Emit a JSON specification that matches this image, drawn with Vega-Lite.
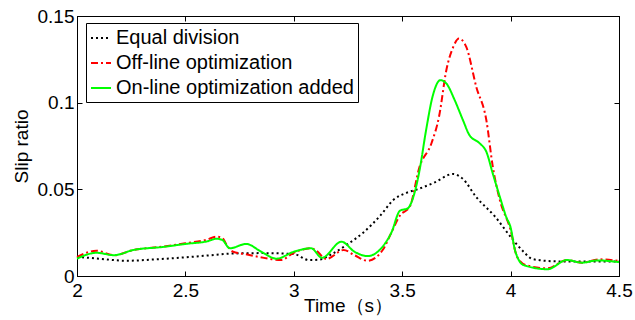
{
  "$schema": "https://vega.github.io/schema/vega-lite/v6.json",
  "width": 542,
  "height": 260,
  "autosize": {"type": "none"},
  "padding": {"left": 77, "top": 16, "right": 16, "bottom": 44},
  "background": "white",
  "config": {
    "view": {"stroke": "black", "strokeWidth": 1},
    "font": "Liberation Sans",
    "axis": {
      "grid": false,
      "domainColor": "black",
      "tickColor": "black",
      "labelColor": "black",
      "titleColor": "black",
      "labelFont": "Liberation Sans",
      "titleFont": "Liberation Sans",
      "labelFontSize": 19,
      "titleFontSize": 19,
      "titleFontWeight": "normal",
      "tickSize": -5
    },
    "legend": {
      "labelFont": "Liberation Sans",
      "labelFontSize": 20,
      "labelColor": "black",
      "labelLimit": 0
    }
  },
  "data": {
    "values": [
      {"t": 2.00, "v": 0.0111, "s": "Equal division"},
      {"t": 2.10, "v": 0.0100, "s": "Equal division"},
      {"t": 2.23, "v": 0.0088, "s": "Equal division"},
      {"t": 2.35, "v": 0.0095, "s": "Equal division"},
      {"t": 2.50, "v": 0.0108, "s": "Equal division"},
      {"t": 2.62, "v": 0.0120, "s": "Equal division"},
      {"t": 2.72, "v": 0.0130, "s": "Equal division"},
      {"t": 2.85, "v": 0.0132, "s": "Equal division"},
      {"t": 3.00, "v": 0.0127, "s": "Equal division"},
      {"t": 3.07, "v": 0.0092, "s": "Equal division"},
      {"t": 3.12, "v": 0.0095, "s": "Equal division"},
      {"t": 3.18, "v": 0.0130, "s": "Equal division"},
      {"t": 3.25, "v": 0.0185, "s": "Equal division"},
      {"t": 3.32, "v": 0.0250, "s": "Equal division"},
      {"t": 3.40, "v": 0.0350, "s": "Equal division"},
      {"t": 3.46, "v": 0.0440, "s": "Equal division"},
      {"t": 3.52, "v": 0.0480, "s": "Equal division"},
      {"t": 3.57, "v": 0.0500, "s": "Equal division"},
      {"t": 3.65, "v": 0.0540, "s": "Equal division"},
      {"t": 3.735, "v": 0.0589, "s": "Equal division"},
      {"t": 3.78, "v": 0.0560, "s": "Equal division"},
      {"t": 3.84, "v": 0.0458, "s": "Equal division"},
      {"t": 3.93, "v": 0.0340, "s": "Equal division"},
      {"t": 4.01, "v": 0.0210, "s": "Equal division"},
      {"t": 4.06, "v": 0.0140, "s": "Equal division"},
      {"t": 4.10, "v": 0.0098, "s": "Equal division"},
      {"t": 4.20, "v": 0.0085, "s": "Equal division"},
      {"t": 4.30, "v": 0.0083, "s": "Equal division"},
      {"t": 4.50, "v": 0.0083, "s": "Equal division"},

      {"t": 2.00, "v": 0.0110, "s": "Off-line optimization"},
      {"t": 2.09, "v": 0.0146, "s": "Off-line optimization"},
      {"t": 2.17, "v": 0.0120, "s": "Off-line optimization"},
      {"t": 2.26, "v": 0.0150, "s": "Off-line optimization"},
      {"t": 2.40, "v": 0.0170, "s": "Off-line optimization"},
      {"t": 2.50, "v": 0.0189, "s": "Off-line optimization"},
      {"t": 2.60, "v": 0.0210, "s": "Off-line optimization"},
      {"t": 2.645, "v": 0.0227, "s": "Off-line optimization"},
      {"t": 2.67, "v": 0.0220, "s": "Off-line optimization"},
      {"t": 2.69, "v": 0.0180, "s": "Off-line optimization"},
      {"t": 2.72, "v": 0.0140, "s": "Off-line optimization"},
      {"t": 2.78, "v": 0.0125, "s": "Off-line optimization"},
      {"t": 2.84, "v": 0.0110, "s": "Off-line optimization"},
      {"t": 2.94, "v": 0.0092, "s": "Off-line optimization"},
      {"t": 3.00, "v": 0.0134, "s": "Off-line optimization"},
      {"t": 3.08, "v": 0.0160, "s": "Off-line optimization"},
      {"t": 3.10, "v": 0.0150, "s": "Off-line optimization"},
      {"t": 3.15, "v": 0.0098, "s": "Off-line optimization"},
      {"t": 3.23, "v": 0.0150, "s": "Off-line optimization"},
      {"t": 3.28, "v": 0.0120, "s": "Off-line optimization"},
      {"t": 3.34, "v": 0.0088, "s": "Off-line optimization"},
      {"t": 3.41, "v": 0.0150, "s": "Off-line optimization"},
      {"t": 3.45, "v": 0.0250, "s": "Off-line optimization"},
      {"t": 3.49, "v": 0.0350, "s": "Off-line optimization"},
      {"t": 3.535, "v": 0.0400, "s": "Off-line optimization"},
      {"t": 3.58, "v": 0.0630, "s": "Off-line optimization"},
      {"t": 3.635, "v": 0.0766, "s": "Off-line optimization"},
      {"t": 3.67, "v": 0.0920, "s": "Off-line optimization"},
      {"t": 3.704, "v": 0.1190, "s": "Off-line optimization"},
      {"t": 3.735, "v": 0.1320, "s": "Off-line optimization"},
      {"t": 3.762, "v": 0.1370, "s": "Off-line optimization"},
      {"t": 3.796, "v": 0.1320, "s": "Off-line optimization"},
      {"t": 3.842, "v": 0.1090, "s": "Off-line optimization"},
      {"t": 3.888, "v": 0.0900, "s": "Off-line optimization"},
      {"t": 3.918, "v": 0.0630, "s": "Off-line optimization"},
      {"t": 3.95, "v": 0.0440, "s": "Off-line optimization"},
      {"t": 4.00, "v": 0.0265, "s": "Off-line optimization"},
      {"t": 4.03, "v": 0.0110, "s": "Off-line optimization"},
      {"t": 4.07, "v": 0.0063, "s": "Off-line optimization"},
      {"t": 4.17, "v": 0.0044, "s": "Off-line optimization"},
      {"t": 4.26, "v": 0.0092, "s": "Off-line optimization"},
      {"t": 4.33, "v": 0.0077, "s": "Off-line optimization"},
      {"t": 4.41, "v": 0.0096, "s": "Off-line optimization"},
      {"t": 4.50, "v": 0.0087, "s": "Off-line optimization"},

      {"t": 2.00, "v": 0.0100, "s": "On-line optimization added"},
      {"t": 2.09, "v": 0.0134, "s": "On-line optimization added"},
      {"t": 2.17, "v": 0.0120, "s": "On-line optimization added"},
      {"t": 2.26, "v": 0.0150, "s": "On-line optimization added"},
      {"t": 2.40, "v": 0.0168, "s": "On-line optimization added"},
      {"t": 2.50, "v": 0.0185, "s": "On-line optimization added"},
      {"t": 2.60, "v": 0.0200, "s": "On-line optimization added"},
      {"t": 2.645, "v": 0.0215, "s": "On-line optimization added"},
      {"t": 2.67, "v": 0.0208, "s": "On-line optimization added"},
      {"t": 2.705, "v": 0.0160, "s": "On-line optimization added"},
      {"t": 2.78, "v": 0.0185, "s": "On-line optimization added"},
      {"t": 2.85, "v": 0.0140, "s": "On-line optimization added"},
      {"t": 2.92, "v": 0.0100, "s": "On-line optimization added"},
      {"t": 3.00, "v": 0.0140, "s": "On-line optimization added"},
      {"t": 3.08, "v": 0.0160, "s": "On-line optimization added"},
      {"t": 3.13, "v": 0.0105, "s": "On-line optimization added"},
      {"t": 3.22, "v": 0.0198, "s": "On-line optimization added"},
      {"t": 3.28, "v": 0.0140, "s": "On-line optimization added"},
      {"t": 3.34, "v": 0.0115, "s": "On-line optimization added"},
      {"t": 3.41, "v": 0.0170, "s": "On-line optimization added"},
      {"t": 3.45, "v": 0.0250, "s": "On-line optimization added"},
      {"t": 3.49, "v": 0.0377, "s": "On-line optimization added"},
      {"t": 3.525, "v": 0.0390, "s": "On-line optimization added"},
      {"t": 3.557, "v": 0.0480, "s": "On-line optimization added"},
      {"t": 3.58, "v": 0.0610, "s": "On-line optimization added"},
      {"t": 3.61, "v": 0.0840, "s": "On-line optimization added"},
      {"t": 3.64, "v": 0.1035, "s": "On-line optimization added"},
      {"t": 3.676, "v": 0.1130, "s": "On-line optimization added"},
      {"t": 3.704, "v": 0.1110, "s": "On-line optimization added"},
      {"t": 3.742, "v": 0.1015, "s": "On-line optimization added"},
      {"t": 3.78, "v": 0.0900, "s": "On-line optimization added"},
      {"t": 3.81, "v": 0.0813, "s": "On-line optimization added"},
      {"t": 3.857, "v": 0.0766, "s": "On-line optimization added"},
      {"t": 3.888, "v": 0.0717, "s": "On-line optimization added"},
      {"t": 3.918, "v": 0.0590, "s": "On-line optimization added"},
      {"t": 3.95, "v": 0.0458, "s": "On-line optimization added"},
      {"t": 3.98, "v": 0.0340, "s": "On-line optimization added"},
      {"t": 4.00, "v": 0.0280, "s": "On-line optimization added"},
      {"t": 4.02, "v": 0.0150, "s": "On-line optimization added"},
      {"t": 4.06, "v": 0.0063, "s": "On-line optimization added"},
      {"t": 4.17, "v": 0.0039, "s": "On-line optimization added"},
      {"t": 4.26, "v": 0.0092, "s": "On-line optimization added"},
      {"t": 4.33, "v": 0.0077, "s": "On-line optimization added"},
      {"t": 4.40, "v": 0.0090, "s": "On-line optimization added"},
      {"t": 4.50, "v": 0.0080, "s": "On-line optimization added"}
    ]
  },
  "layer": [
    {
      "mark": {"type": "line", "interpolate": "monotone", "strokeWidth": 2},
      "encoding": {
        "x": {
          "field": "t", "type": "quantitative",
          "scale": {"domain": [2, 4.5], "nice": false, "zero": false},
          "axis": {
            "orient": "bottom",
            "values": [2, 2.5, 3, 3.5, 4, 4.5],
            "labelExpr": "format(datum.value, '.1~f')",
            "title": "Time（s）",
            "titlePadding": -4,
            "labelPadding": 10,
            "labelFlush": false
          }
        },
        "y": {
          "field": "v", "type": "quantitative",
          "scale": {"domain": [0, 0.15], "nice": false},
          "axis": {
            "orient": "left",
            "values": [0, 0.05, 0.1, 0.15],
            "labelExpr": "format(datum.value, '.2~f')",
            "title": "Slip ratio",
            "titlePadding": 6,
            "labelPadding": 8,
            "labelFlush": false
          }
        },
        "color": {
          "field": "s", "type": "nominal",
          "scale": {
            "domain": ["Equal division", "Off-line optimization", "On-line optimization added"],
            "range": ["#000000", "#ff0000", "#00ff00"]
          },
          "legend": {
            "orient": "none",
            "legendX": 9,
            "legendY": 7,
            "title": null,
            "fillColor": "white",
            "strokeColor": "black",
            "padding": 4,
            "symbolType": "stroke",
            "symbolSize": 400,
            "symbolStrokeWidth": 2,
            "labelOffset": 4,
            "rowPadding": 4,
            "labelLimit": 0
          }
        },
        "strokeDash": {
          "field": "s", "type": "nominal",
          "scale": {
            "domain": ["Equal division", "Off-line optimization", "On-line optimization added"],
            "range": [[2, 3], [7, 3, 2, 3], [1, 0]]
          },
          "legend": null
        }
      }
    },
    {
      "mark": {"type": "line", "opacity": 0},
      "encoding": {
        "x": {
          "field": "t", "type": "quantitative",
          "axis": {"orient": "top", "values": [2, 2.5, 3, 3.5, 4, 4.5], "labels": false, "title": null}
        },
        "y": {
          "field": "v", "type": "quantitative",
          "axis": {"orient": "right", "values": [0, 0.05, 0.1, 0.15], "labels": false, "title": null}
        }
      }
    }
  ],
  "resolve": {"axis": {"x": "independent", "y": "independent"}}
}
